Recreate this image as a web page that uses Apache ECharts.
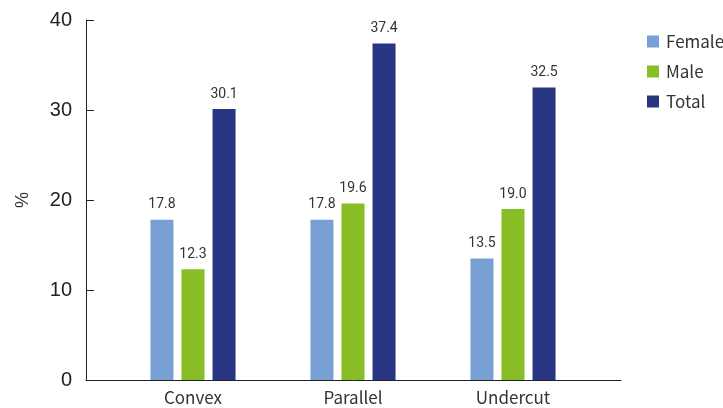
<!DOCTYPE html>
<html>
<head>
<meta charset="utf-8">
<script src="https://cdn.jsdelivr.net/npm/echarts@6/dist/echarts.min.js"></script>
<style>html,body{margin:0;padding:0;background:#fff}#c{width:723px;height:408px}</style>
</head>
<body>
<div id="c"></div>
<script>
const categories = ['Convex', 'Parallel', 'Undercut'];
const female = [17.8, 17.8, 13.5];
const male = [12.3, 19.6, 19.0];
const total = [30.1, 37.4, 32.5];
const yTicks = [0, 10, 20, 30, 40];

const chart = echarts.init(document.getElementById('c'), null, {renderer: 'canvas'});
const lblFont = '"Noto Sans CJK KR", "Noto Sans", sans-serif';
const valLabel = {
  show: true, position: 'top', distance: 8,
  color: '#333', fontSize: 14, fontFamily: 'Roboto, "Noto Sans", sans-serif',
  formatter: p => p.value.toFixed(1)
};
function bar(name, data, color) {
  return {
    name, type: 'bar', data, xAxisIndex: 1, yAxisIndex: 1,
    barWidth: 23, barGap: '35%',
    itemStyle: {color},
    label: valLabel
  };
}
chart.setOption({
  animation: false,
  grid: [
    {left: 86, right: 102, top: 20, bottom: 28},
    {left: 113, right: 130, top: 20, bottom: 28}
  ],
  legend: {
    orient: 'vertical', left: 642, top: 28,
    itemWidth: 12, itemHeight: 12, itemGap: 13,
    icon: 'rect',
    textStyle: {color: '#333', fontSize: 17, fontFamily: lblFont, padding: [0, 0, 0, 2]},
    data: ['Female', 'Male', 'Total']
  },
  xAxis: [
    {type: 'category', gridIndex: 0, data: categories,
     axisLine: {lineStyle: {color: '#222', width: 1}},
     axisTick: {show: false}, axisLabel: {show: false}},
    {type: 'category', gridIndex: 1, data: categories,
     axisLine: {show: false}, axisTick: {show: false},
     axisLabel: {color: '#333', fontSize: 17, fontFamily: lblFont, margin: 9}}
  ],
  yAxis: [
    {type: 'value', gridIndex: 0, min: yTicks[0], max: yTicks[yTicks.length - 1], interval: 10,
     name: '%', nameLocation: 'middle', nameGap: 54, nameRotate: 90,
     nameTextStyle: {color: '#333', fontSize: 18, fontFamily: 'Liberation Sans, Arial, sans-serif'},
     axisLine: {show: true, lineStyle: {color: '#222', width: 1}},
     axisTick: {show: true, inside: true, length: 8, lineStyle: {color: '#222'}},
     splitLine: {show: false},
     axisLabel: {color: '#222', fontSize: 20, margin: 14, fontFamily: 'Liberation Sans, Arial, sans-serif'}},
    {type: 'value', gridIndex: 1, min: yTicks[0], max: yTicks[yTicks.length - 1], interval: 10,
     show: false, splitLine: {show: false}}
  ],
  series: [
    bar('Female', female, '#78A0D4'),
    bar('Male', male, '#88BD25'),
    bar('Total', total, '#283580')
  ]
});
</script>
</body>
</html>
